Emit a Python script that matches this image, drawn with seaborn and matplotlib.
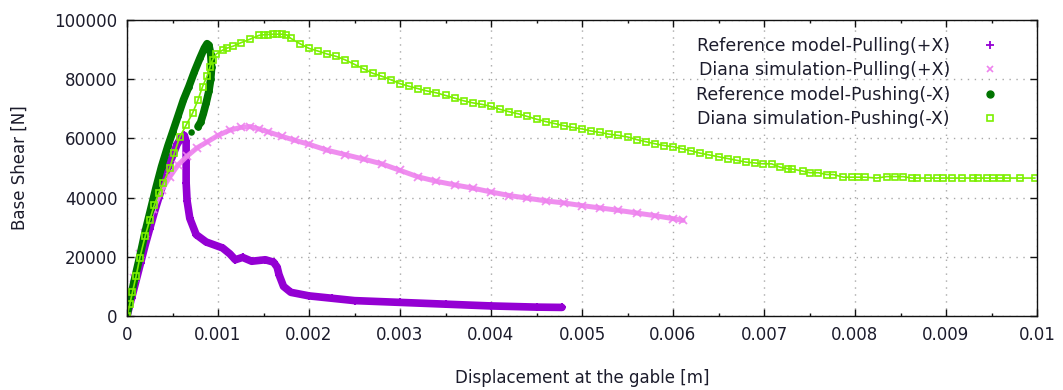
import matplotlib
matplotlib.use("Agg")
import matplotlib.pyplot as plt
import seaborn as sns
import pandas as pd
from matplotlib.lines import Line2D
from matplotlib.ticker import MultipleLocator, FuncFormatter

# Reference model - pulling (+X)
pull_ref_disp = [0, 0.00005, 0.0001, 0.00015, 0.0002, 0.00025, 0.0003, 0.00035, 0.0004, 0.00045,
                 0.0005, 0.00055, 0.0006, 0.00063, 0.00065, 0.00065, 0.00065, 0.00066, 0.00069, 0.00076,
                 0.00087, 0.00105, 0.00113, 0.00119, 0.00127, 0.00137, 0.00152, 0.00161, 0.00165, 0.00167,
                 0.00172, 0.0018, 0.002, 0.00225, 0.0025, 0.003, 0.0035, 0.004, 0.0045, 0.00478]
pull_ref_shear = [0, 6000, 12000, 18000, 24000, 29500, 35000, 40000, 45000, 50000,
                  54000, 58000, 60500, 61000, 59000, 52000, 45000, 39000, 33000, 27500,
                  25000, 23000, 21000, 19000, 19800, 18500, 19000, 18200, 16500, 14000,
                  10000, 8000, 6800, 6000, 5200, 4600, 4000, 3400, 3000, 2900]

# Diana simulation - pulling (+X)
pull_sim_disp = [0, 0.00003, 0.00008, 0.00014, 0.0002, 0.00029, 0.00038, 0.00047, 0.00056, 0.00066,
                 0.00077, 0.00088, 0.001, 0.00113, 0.00125, 0.00135, 0.00145, 0.00155, 0.0017, 0.00185,
                 0.002, 0.0022, 0.0024, 0.0026, 0.0028, 0.003, 0.0032, 0.0034, 0.0036, 0.0038,
                 0.004, 0.0042, 0.0044, 0.0046, 0.0048, 0.005, 0.0052, 0.0054, 0.0056, 0.0058,
                 0.006, 0.00611]
pull_sim_shear = [0, 6000, 13000, 21000, 28000, 36000, 42500, 47000, 51000, 54000,
                  56800, 58800, 61000, 62800, 63700, 64000, 63200, 62200, 60700, 59300,
                  58000, 56000, 54500, 53000, 51400, 49200, 47000, 45500, 44300, 43200,
                  41900, 40700, 39800, 38900, 38200, 37300, 36500, 35700, 34800, 33900,
                  32900, 32300]

# Reference model - pushing (-X)
push_ref_disp = [0, 0.00003, 0.00008, 0.00014, 0.0002, 0.00026, 0.00032, 0.00038, 0.00045, 0.0005,
                 0.00056, 0.00062, 0.00068, 0.00074, 0.0008, 0.00085, 0.00088, 0.0009, 0.00092, 0.00093,
                 0.00092, 0.0009, 0.00087, 0.00084, 0.00081, 0.00078]
push_ref_shear = [0, 5000, 12000, 20000, 28500, 36000, 43500, 50500, 57500, 62000,
                  67500, 73000, 77500, 82500, 87000, 90500, 92000, 91500, 88500, 84000,
                  80000, 76000, 72000, 68500, 65500, 64000]
push_ref_last_disp = [0.00071]
push_ref_last_shear = [62000]

# Diana simulation - pushing (-X)
push_sim_disp = [0, 0.00003, 0.00006, 0.0001, 0.00014, 0.0002, 0.00025, 0.0003, 0.00035, 0.0004,
                 0.00047, 0.00052, 0.00058, 0.00065, 0.00072, 0.00078, 0.00083, 0.00088, 0.00091, 0.00094,
                 0.00098, 0.00105, 0.0011, 0.00117, 0.00125, 0.00135, 0.00145, 0.0015, 0.00155, 0.0016,
                 0.00165, 0.0017, 0.00175, 0.0018, 0.0019, 0.002, 0.0021, 0.0022, 0.0023, 0.0024,
                 0.0025, 0.0026, 0.0027, 0.0028, 0.0029, 0.003, 0.0031, 0.0032, 0.0033, 0.0034,
                 0.0035, 0.0036, 0.0037, 0.0038, 0.0039, 0.004, 0.0041, 0.0042, 0.0043, 0.0044,
                 0.0045, 0.0046, 0.0047, 0.0048, 0.0049, 0.005, 0.0051, 0.0052, 0.0053, 0.0054,
                 0.0055, 0.0056, 0.0057, 0.0058, 0.0059, 0.006, 0.0061, 0.0062, 0.0063, 0.0064,
                 0.0065, 0.0066, 0.0067, 0.0068, 0.0069, 0.006993, 0.007084, 0.007176, 0.007267, 0.007304,
                 0.007432, 0.007505, 0.007597, 0.007689, 0.007762, 0.007872, 0.007964, 0.008037, 0.00811, 0.008238,
                 0.008348, 0.00844, 0.008531, 0.008623, 0.008678, 0.008806, 0.008897, 0.00897, 0.009062, 0.009172,
                 0.0093, 0.009355, 0.009447, 0.00952, 0.009593, 0.009667, 0.009813, 0.009978]
push_sim_shear = [0, 4000, 8000, 13500, 19500, 27000, 32500, 37500, 41500, 45000,
                  50000, 55000, 60500, 64500, 68500, 73000, 77500, 81000, 84000, 86500,
                  88500, 89800, 90500, 91200, 92300, 93500, 94800, 95000, 95100, 95200,
                  95200, 95200, 95000, 93800, 92000, 90400, 89500, 88500, 87700, 86500,
                  85000, 83500, 82000, 81000, 79800, 78500, 77600, 76800, 76000, 75400,
                  74500, 73600, 72700, 72000, 71500, 70800, 69800, 69000, 68300, 67400,
                  66500, 65700, 65000, 64300, 63700, 63200, 62500, 62000, 61400, 61000,
                  60500, 59600, 58900, 58200, 57600, 57200, 56500, 55800, 55000, 54400,
                  53800, 53200, 52600, 52000, 51700, 51400, 51400, 50300, 49700, 49700,
                  48900, 48400, 48400, 47800, 47800, 46900, 46900, 46900, 46900, 46600,
                  47100, 47100, 47100, 46600, 46600, 46600, 46600, 46600, 46600, 46600,
                  46600, 46600, 46600, 46600, 46600, 46600, 46600, 46600]

series_labels = ["Reference model-Pulling(+X)", "Diana simulation-Pulling(+X)",
                 "Reference model-Pushing(-X)", "Diana simulation-Pushing(-X)"]
series_colors = ["#9400d3", "#ee82ee", "#007400", "#7cf000"]

x_ticks = [0, 0.001, 0.002, 0.003, 0.004, 0.005, 0.006, 0.007, 0.008, 0.009, 0.01]
y_ticks = [0, 20000, 40000, 60000, 80000, 100000]

sns.set_theme(style="ticks")
plt.rcParams['font.family'] = ['DejaVu Sans']
plt.rcParams['font.size'] = 12
text_color = "#1c1c2c"

fig = plt.figure(figsize=(10.63, 3.9), dpi=100)
ax = fig.add_axes([127 / 1063, 1 - 316 / 390, (1037 - 127) / 1063, (316 - 20) / 390])

c_pr, c_ps, c_gr, c_gs = series_colors

sns.lineplot(x=pull_ref_disp, y=pull_ref_shear, sort=False, estimator=None, ax=ax,
             color=c_pr, lw=5.5, marker="+", ms=6, mew=1.5, mec=c_pr,
             solid_capstyle="round", solid_joinstyle="round")
sns.lineplot(x=pull_sim_disp, y=pull_sim_shear, sort=False, estimator=None, ax=ax,
             color=c_ps, lw=3.6, marker="x", ms=5.5, mew=1.3, mec=c_ps, alpha=0.9,
             solid_capstyle="round")
sns.lineplot(x=push_ref_disp, y=push_ref_shear, sort=False, estimator=None, ax=ax,
             color=c_gr, lw=5.5, marker="o", ms=4, mec=c_gr, mfc=c_gr,
             solid_capstyle="round", solid_joinstyle="round")
sns.scatterplot(x=push_ref_last_disp, y=push_ref_last_shear, ax=ax, color=c_gr,
                s=22, edgecolor="none")
sns.lineplot(x=push_sim_disp, y=push_sim_shear, sort=False, estimator=None, ax=ax,
             color=c_gs, lw=1.2, marker="s", ms=4.4, mfc="none", mec=c_gs, mew=1.2)

ax.set_xlim(0, 0.01)
ax.set_ylim(0, 100000)
ax.set_xticks(x_ticks)
ax.set_yticks(y_ticks)
ax.xaxis.set_minor_locator(MultipleLocator(0.0005))
ax.xaxis.set_major_formatter(FuncFormatter(lambda v, p: f"{v:g}"))
ax.yaxis.set_major_formatter(FuncFormatter(lambda v, p: f"{int(round(v))}"))

ax.grid(True, which="major", color="#a8a8a8", linestyle=(0, (1, 4)), lw=1.0)
ax.tick_params(which="both", direction="in", top=True, right=True, colors="#111111",
               labelcolor=text_color, labelsize=12)
ax.tick_params(which="major", length=5, width=1.0, pad=7)
ax.tick_params(which="minor", length=2.5, width=1.0)
for side in ax.spines.values():
    side.set_color("#111111")
    side.set_linewidth(1.0)

ax.set_xlabel("Displacement at the gable [m]", color=text_color, fontsize=12)
ax.set_ylabel("Base Shear [N]", color=text_color, fontsize=12)
ax.xaxis.set_label_coords(0.5, -0.18)
ax.yaxis.set_label_coords(-0.108, 0.5)

handles = [
    Line2D([], [], ls="none", marker="+", ms=6, mew=1.3, color=c_pr),
    Line2D([], [], ls="none", marker="x", ms=5, mew=1.2, color=c_ps),
    Line2D([], [], ls="none", marker="o", ms=5, color=c_gr),
    Line2D([], [], ls="none", marker="s", ms=4.5, mfc="none", mec=c_gs, mew=1.2),
]
leg = ax.legend(handles, series_labels, loc="upper right", bbox_to_anchor=(0.971, 0.985),
                frameon=False, markerfirst=False, handlelength=1.0, handletextpad=1.8,
                labelspacing=0.38, fontsize=12.5, borderaxespad=0.3)
for t in leg.get_texts():
    t.set_color(text_color)

fig.savefig("out.png", dpi=100)
